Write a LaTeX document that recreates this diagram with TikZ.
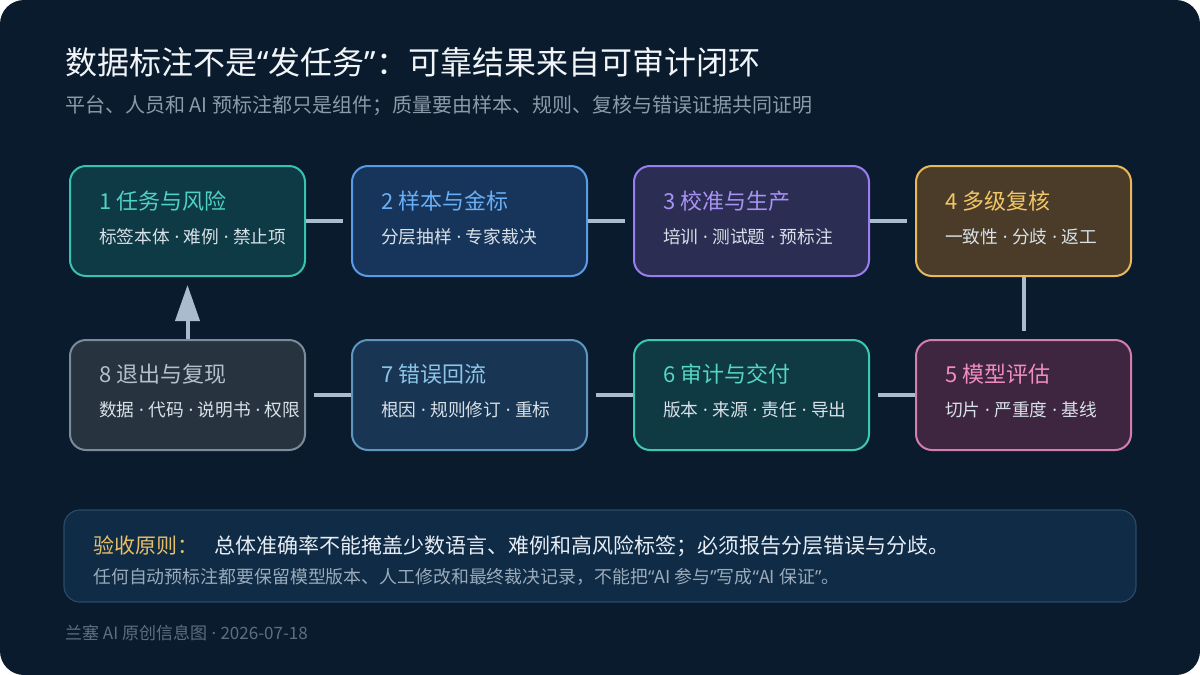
\documentclass[tikz,border=0pt]{standalone}
\usepackage{fontspec}
\setmainfont{Noto Sans CJK SC}
\newfontfamily\latf{Noto Sans}
\newcommand\qo{{\latf “}}
\newcommand\qc{{\latf ”}}
\newcommand\md{{\latf\ ·\ }}
\usetikzlibrary{arrows.meta,calc}
\definecolor{bgc}{HTML}{0B1B2E}
\definecolor{conc}{HTML}{A8BCCD}
\definecolor{subc}{HTML}{D8E0E8}
\definecolor{fA}{HTML}{0E3A45}\definecolor{dA}{HTML}{38C2B0}\definecolor{tA}{HTML}{4FD1C5}
\definecolor{fB}{HTML}{17355A}\definecolor{dB}{HTML}{5A9BE8}\definecolor{tB}{HTML}{6AAEF5}
\definecolor{fC}{HTML}{2B2D52}\definecolor{dC}{HTML}{9A7DF0}\definecolor{tC}{HTML}{A993F5}
\definecolor{fD}{HTML}{4A3C29}\definecolor{dD}{HTML}{E8B95A}\definecolor{tD}{HTML}{F2C566}
\definecolor{fE}{HTML}{3E2640}\definecolor{dE}{HTML}{D67DB0}\definecolor{tE}{HTML}{F08DC0}
\definecolor{fF}{HTML}{0F3A44}\definecolor{dF}{HTML}{3DC8B5}\definecolor{tF}{HTML}{55D6C2}
\definecolor{fG}{HTML}{183553}\definecolor{dG}{HTML}{5E96C0}\definecolor{tG}{HTML}{8CC4E8}
\definecolor{fH}{HTML}{27333F}\definecolor{dH}{HTML}{7C8B9A}\definecolor{tH}{HTML}{B4C0CC}
\definecolor{notef}{HTML}{0F2B45}\definecolor{noted}{HTML}{284B68}
\definecolor{goldc}{HTML}{E6BF6A}\definecolor{maintc}{HTML}{E6EDF5}
\definecolor{line2c}{HTML}{9AAABA}\definecolor{footc}{HTML}{5D6E80}
\definecolor{titc}{HTML}{F2F5F8}\definecolor{subtc}{HTML}{8C9BAA}
\begin{document}
\begin{tikzpicture}[x=1pt,y=-1pt,
  stepbox/.style n args={3}{draw=#2, fill=#1, line width=2pt, rounded corners=16pt,
     minimum height=110pt, inner sep=0pt, text=#3},
  boxtitle/.style={anchor=base west, inner sep=0pt, font=\fontsize{22}{24}\selectfont},
  boxsub/.style={anchor=base west, inner sep=0pt, text=subc, font=\fontsize{17.7}{20}\selectfont},
  conn/.style={draw=conc, line width=4pt}]
\useasboundingbox (0,0) rectangle (1200,675);
\fill[white] (0,0) rectangle (1200,675);
\fill[bgc, rounded corners=24pt] (0,0) rectangle (1200,675);
% title
\node[anchor=base west, inner sep=0pt, text=titc, font=\fontsize{32}{36}\selectfont] (title) at (65,74) {数据标注不是\qo 发任务\qc：可靠结果来自可审计闭环};
\node[anchor=base west, inner sep=0pt, text=subtc, font=\fontsize{20}{22}\selectfont] (subtitle) at (65,112.5) {平台、人员和 AI 预标注都只是组件；质量要由样本、规则、复核与错误证据共同证明};
% boxes
\node[stepbox={fA}{dA}{tA}, minimum width=235pt] (b1) at (187.5,221) {};
\node[stepbox={fB}{dB}{tB}, minimum width=235pt] (b2) at (469.5,221) {};
\node[stepbox={fC}{dC}{tC}, minimum width=235pt] (b3) at (751.5,221) {};
\node[stepbox={fD}{dD}{tD}, minimum width=215pt] (b4) at (1023.5,221) {};
\node[stepbox={fE}{dE}{tE}, minimum width=215pt] (b5) at (1023.5,395) {};
\node[stepbox={fF}{dF}{tF}, minimum width=235pt] (b6) at (751.5,395) {};
\node[stepbox={fG}{dG}{tG}, minimum width=235pt] (b7) at (469.5,395) {};
\node[stepbox={fH}{dH}{tH}, minimum width=235pt] (b8) at (187.5,395) {};
% box texts
\node[boxtitle, text=tA] (t1) at ($(b1.north west)+(30,44)$) {1 任务与风险};
\node[boxsub] (s1) at ($(b1.north west)+(30,78)$) {标签本体\md 难例\md 禁止项};
\node[boxtitle, text=tB] (t2) at ($(b2.north west)+(30,44)$) {2 样本与金标};
\node[boxsub] (s2) at ($(b2.north west)+(30,78)$) {分层抽样\md 专家裁决};
\node[boxtitle, text=tC] (t3) at ($(b3.north west)+(30,44)$) {3 校准与生产};
\node[boxsub] (s3) at ($(b3.north west)+(30,78)$) {培训\md 测试题\md 预标注};
\node[boxtitle, text=tD] (t4) at ($(b4.north west)+(30,44)$) {4 多级复核};
\node[boxsub] (s4) at ($(b4.north west)+(30,78)$) {一致性\md 分歧\md 返工};
\node[boxtitle, text=tE] (t5) at ($(b5.north west)+(30,43.5)$) {5 模型评估};
\node[boxsub] (s5) at ($(b5.north west)+(30,77.5)$) {切片\md 严重度\md 基线};
\node[boxtitle, text=tF] (t6) at ($(b6.north west)+(30,43.5)$) {6 审计与交付};
\node[boxsub] (s6) at ($(b6.north west)+(30,77.5)$) {版本\md 来源\md 责任\md 导出};
\node[boxtitle, text=tG] (t7) at ($(b7.north west)+(30,43.5)$) {7 错误回流};
\node[boxsub] (s7) at ($(b7.north west)+(30,77.5)$) {根因\md 规则修订\md 重标};
\node[boxtitle, text=tH] (t8) at ($(b8.north west)+(30,43.5)$) {8 退出与复现};
\node[boxsub] (s8) at ($(b8.north west)+(30,77.5)$) {数据\md 代码\md 说明书\md 权限};
% connectors
\draw[conn] (b1.east) -- ([xshift=-8pt]b2.west);
\draw[conn] (b2.east) -- ([xshift=-8pt]b3.west);
\draw[conn] (b3.east) -- ([xshift=-8pt]b4.west);
\draw[conn] (b4.south) -- ([yshift=8pt]b5.north);
\draw[conn] (b5.west) -- ([xshift=8pt]b6.east);
\draw[conn] (b6.west) -- ([xshift=8pt]b7.east);
\draw[conn] (b7.west) -- ([xshift=8pt]b8.east);
\draw[conn, -{Triangle[length=36pt,width=24pt,fill=conc]}] (b8.north) -- ([yshift=-8pt]b1.south);
% note box
\node[draw=noted, fill=notef, line width=1.2pt, rounded corners=16pt, minimum width=1072pt, minimum height=92pt, inner sep=0pt] (note) at (600,556) {};
\node[anchor=base west, inner sep=0pt, text=goldc, font=\fontsize{21}{24}\selectfont] (nl) at (93,553) {验收原则：};
\node[anchor=base west, inner sep=0pt, text=maintc, font=\fontsize{21}{24}\selectfont] (nt) at (214,553) {总体准确率不能掩盖少数语言、难例和高风险标签；必须报告分层错误与分歧。};
\node[anchor=base west, inner sep=0pt, text=line2c, font=\fontsize{17.9}{20}\selectfont] (n2) at (93,583.5) {任何自动预标注都要保留模型版本、人工修改和最终裁决记录，不能把\qo AI 参与\qc 写成\qo AI 保证\qc。};
% footer
\node[anchor=base west, inner sep=0pt, text=footc, font=\fontsize{17}{19}\selectfont] (foot) at (65,639) {兰塞 AI 原创信息图\md 2026-07-18};
\end{tikzpicture}
\end{document}
